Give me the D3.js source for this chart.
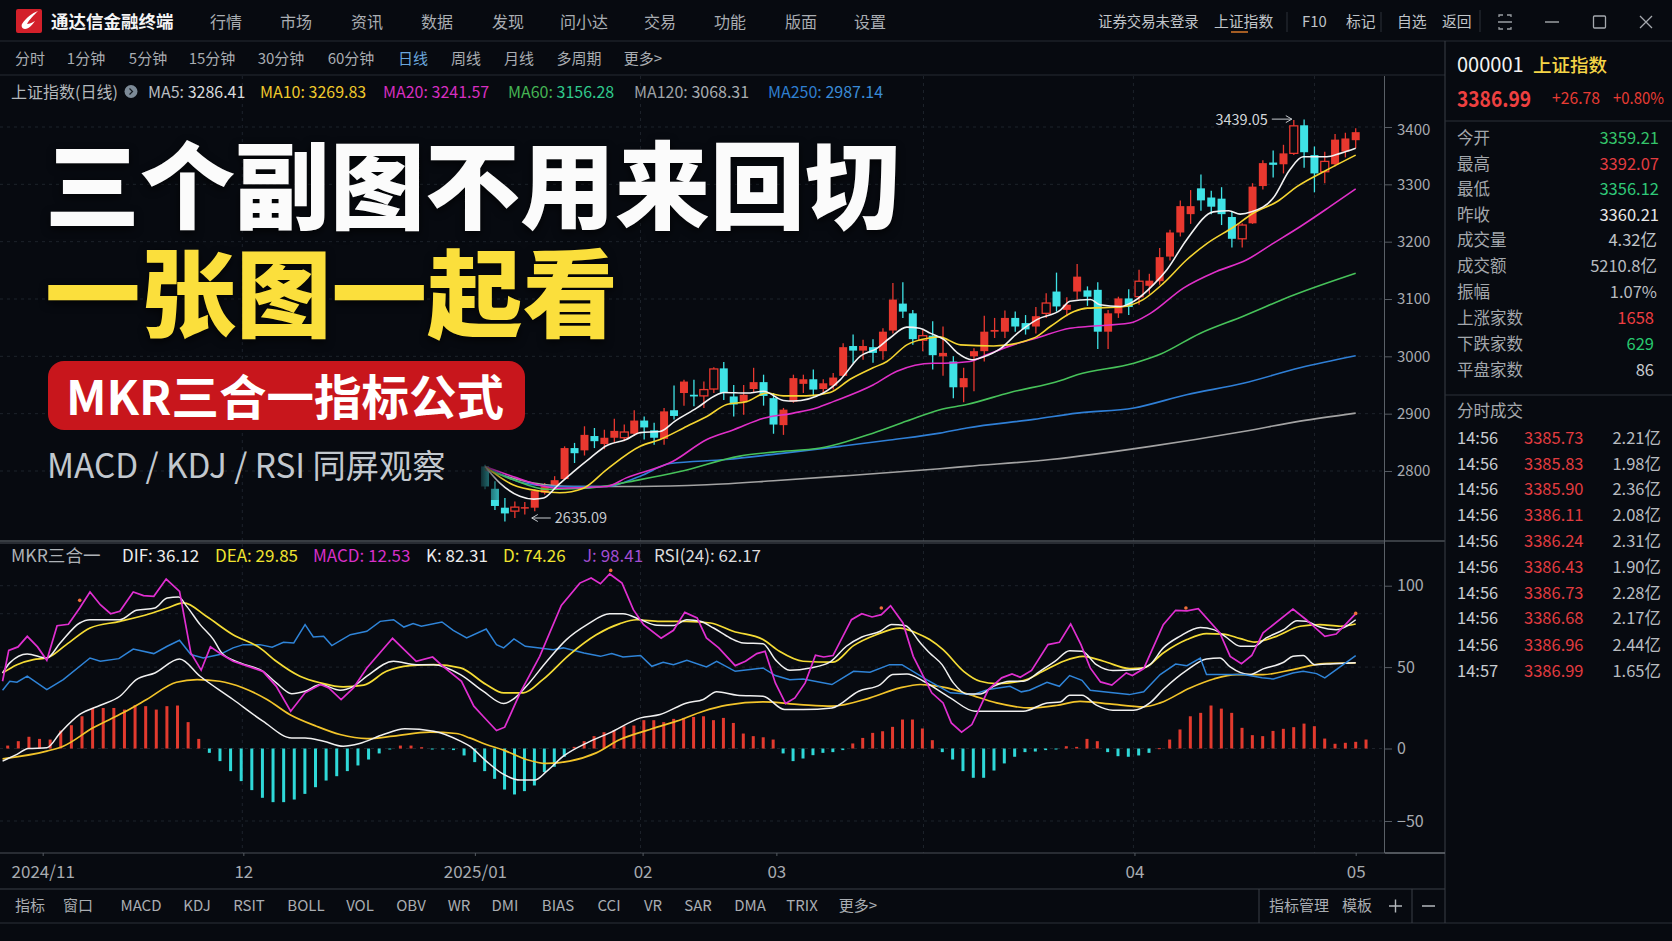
<!DOCTYPE html>
<html><head><meta charset="utf-8">
<script src="https://cdn.jsdelivr.net/npm/d3@7/dist/d3.min.js"></script>
<style>html,body{margin:0;padding:0;background:#070a10;overflow:hidden}svg{display:block}
text{font-family:"Noto Sans CJK SC","Noto Sans",sans-serif}</style></head><body>
<svg id="c" width="1672" height="941"></svg>
<script>
// ---------- candles (Shanghai Composite daily) ----------
const candleOpen=[2808,2769,2736,2730,2735,2736,2762,2773,2786,2840,2836,2861,2847,2858,2858,2865,2888,2871,2856,2906,2936,2933,2931,2943,2979,2930,2921,2943,2955,2927,2880,2921,2952,2960,2943,2949,2966,3018,3010,3016,3009,3045,3092,3075,3028,3036,3000,2991,2946,3000,3009,3043,3043,3067,3058,3052,3075,3113,3081,3113,3115,3116,3043,3075,3101,3104,3123,3131,3174,3216,3248,3293,3277,3275,3243,3205,3232,3297,3338,3335,3354,3403,3351,3322,3335,3357,3377];
const candleClose=[2773,2739,2726,2737,2737,2765,2773,2784,2840,2831,2863,2852,2858,2870,2868,2888,2876,2858,2904,2896,2956,2930,2942,2978,2936,2916,2933,2955,2931,2881,2907,2962,2960,2942,2953,2963,3016,3010,3018,3006,3043,3099,3078,3030,3036,3002,3006,2946,2962,3009,3043,3046,3067,3052,3047,3070,3093,3087,3090,3139,3104,3043,3075,3101,3086,3131,3132,3173,3216,3262,3262,3272,3261,3248,3205,3229,3296,3337,3334,3354,3402,3356,3319,3340,3378,3380,3391];
const candleHigh=[2811,2782,2753,2747,2746,2768,2779,2791,2843,2849,2878,2875,2872,2891,2881,2906,2895,2884,2910,2949,2959,2959,2956,2981,2990,2950,2950,2980,2968,2936,2910,2968,2968,2977,2960,2971,3023,3038,3029,3030,3049,3128,3129,3081,3046,3061,3052,3000,2980,3014,3071,3067,3080,3078,3072,3086,3110,3146,3103,3161,3122,3129,3081,3104,3117,3151,3144,3189,3221,3272,3290,3317,3289,3295,3252,3232,3302,3342,3359,3369,3412,3413,3366,3357,3388,3390,3398];
const candleLow=[2768,2732,2712,2718,2724,2730,2759,2768,2785,2814,2827,2840,2838,2849,2852,2861,2855,2846,2846,2890,2914,2913,2910,2936,2924,2895,2898,2936,2914,2865,2863,2919,2936,2930,2936,2942,2964,2988,2994,2989,2994,3040,3067,3020,3009,2977,2966,2927,2920,2939,2991,3032,3032,3043,3038,3040,3067,3078,3070,3099,3088,3013,3013,3067,3072,3090,3109,3125,3167,3209,3231,3254,3248,3229,3190,3190,3231,3291,3312,3319,3351,3329,3286,3302,3331,3347,3363];
const hollowCandles=[3,14,22,23,44,56,65,75,80,83];
// ---------- moving averages as [day, value] ----------
const ma5=[[0,2808],[1.5,2779],[3.5,2756],[4.9,2751],[5.9,2753],[7.2,2773],[8.9,2799],[10.6,2823],[12.2,2844],[14.2,2855],[15.6,2867],[17.6,2869],[19.1,2887],[21.3,2910],[23.3,2933],[24,2937],[26.3,2936],[28,2939],[30,2923],[31,2922],[34,2936],[35.7,2959],[37.7,3000],[39.4,3014],[40.7,3032],[42.4,3051],[43.7,3049],[44.8,3040],[46.1,3029],[47.4,3006],[48.8,2994],[49.9,2999],[51.6,3014],[53.2,3040],[55.1,3064],[57.4,3081],[58.3,3096],[60.3,3099],[61.2,3090],[63.2,3087],[64.5,3096],[66.4,3125],[67.7,3151],[69.6,3203],[72.2,3252],[73.7,3254],[74.8,3248],[75.9,3252],[78,3276],[79.6,3325],[80.9,3348],[83.2,3348],[84.5,3354],[86,3363]];
const ma10=[[0,2808],[2.8,2776],[5.5,2765],[7.5,2762],[9.9,2770],[12.2,2802],[15.6,2843],[17.6,2855],[20.3,2878],[22.3,2895],[24.3,2916],[26.3,2921],[28.3,2936],[30,2931],[32.3,2931],[34.7,2937],[36.7,2960],[39,2980],[40.4,2991],[42.4,3020],[44.7,3032],[45.6,3034],[47.7,3020],[50.9,3018],[54.8,3032],[56.4,3052],[58.7,3078],[60,3084],[63.2,3086],[65.4,3099],[67.4,3128],[69.6,3168],[71.6,3197],[74.2,3226],[76.1,3250],[78.4,3270],[80.3,3296],[83.2,3325],[86,3351]];
const ma20=[[0,2808],[3.2,2788],[5.5,2775],[7.2,2770],[12.2,2773],[14.2,2788],[18.9,2817],[22.3,2855],[25,2872],[28,2892],[31,2901],[33.3,2910],[35,2921],[39,2950],[41.4,2974],[45,2988],[46.1,2988],[48.6,2991],[50.3,3003],[52.8,3020],[55.1,3032],[58.3,3049],[60,3052],[64.1,3058],[66.1,3075],[69.3,3119],[72.5,3148],[75.4,3168],[78,3197],[80.6,3226],[83.5,3261],[86,3292]];
const ma60=[[0,2805],[2.8,2785],[6.2,2768],[10.2,2770],[15.6,2785],[19.6,2799],[25.6,2826],[29,2833],[33.7,2840],[39,2866],[42.4,2887],[45.7,2907],[48.3,2916],[52.5,2937],[57.4,2958],[59,2968],[64.5,2988],[67.1,3004],[70.9,3040],[75.1,3070],[80,3107],[86,3145]];
const maBlue=[[0,2808],[3.9,2779],[6.9,2773],[12.2,2773],[15.6,2791],[18.6,2813],[24.3,2820],[29,2829],[35.7,2843],[40.7,2854],[45.7,2866],[48.3,2875],[54.8,2890],[59,2901],[64.5,2910],[69.6,2933],[75.1,2953],[80.6,2980],[86,3001]];
const maGray=[[0,2802],[4.9,2779],[8.9,2773],[15.6,2773],[22.3,2776],[29,2783],[35.7,2791],[45.7,2804],[48.3,2808],[56.4,2820],[66.1,2843],[75.1,2869],[80.6,2887],[86,2901]];
const priceTicks=[3400,3300,3200,3100,3000,2900,2800];
// ---------- MKR sub chart ----------
const macdBars=[1.8,4.5,7.2,5.9,5.5,11,14.3,19.8,24.9,24.9,24.9,23.9,26.6,26,23.9,26,26.4,16.2,5.9,-3,-8.7,-15.6,-22.5,-28.7,-34,-37,-37,-35.2,-31.3,-26.7,-22.1,-19.1,-15.6,-11.7,-7.6,-3.4,-0.7,1.8,1.8,0.8,-0.2,-0.2,-1.1,-4.8,-9.4,-15.6,-20.9,-28.3,-31.7,-29.4,-25.5,-16.3,-12.6,-5.7,1,4.5,7.6,10,11.2,13.7,14.1,17.4,17.4,16.2,18.2,18.8,19.4,19.8,17.4,18.8,15.7,9.2,7.6,6.9,5.5,-3.4,-8.7,-6.9,-4.6,-3,-2.5,-1.1,3.1,6.5,9.6,10.6,13.3,17.8,17.8,12.3,5.1,-2.5,-7.6,-15.6,-20.2,-20.2,-15.2,-10.3,-5.7,-2.5,-2.1,-1.1,-0.2,1.4,1,5.9,4.5,-2.5,-5.3,-5.7,-4.8,-3,0.2,5.5,11.7,19.8,21.9,26.4,24.5,21.9,12.7,8.2,7.6,10.8,12.1,13.1,15.3,13.7,6.1,2.9,3.5,4.1,5.5];
const kdjJ=[[-0.5,41.3],[0.1,60.3],[1,62.4],[1.9,68.9],[2.9,62.4],[3.8,54.2],[4.8,75.4],[5.9,76.3],[7,86.3],[8,96.1],[9,88.3],[10,82.8],[10.9,84.3],[12.2,96.1],[13.2,93.9],[14.2,93.5],[15.4,104.1],[16.7,96.5],[17.8,58.7],[18.8,48.1],[19.7,62.4],[20.8,57.7],[21.9,53.6],[24.8,47.4],[26.1,38.2],[27.5,22.9],[28.9,34.2],[30.4,39.3],[31.2,37.2],[32.4,30.1],[33.6,37.2],[34.9,49.5],[37.4,67.7],[39.7,53.6],[41.3,56.2],[42.3,50.5],[44.1,41.3],[45.3,26],[46.2,19.8],[47.5,11],[48.3,13.1],[49.8,34.2],[51.7,56.6],[53.8,87.9],[55.6,101.6],[56.7,104.7],[57.6,101.2],[58.5,107.2],[59.7,101.6],[60.8,85.3],[61.8,76.1],[63.5,67.7],[64.7,72.6],[65.8,83.6],[67,80.2],[67.9,67.9],[69.1,61.8],[70.7,50.9],[71.7,53.6],[72.8,58.3],[73.6,59.7],[74.6,40.3],[75.6,27.6],[76.5,31.1],[77.5,40.3],[78.5,57.3],[79.3,56.2],[80.2,57.1],[82,79.1],[83,82.8],[84,80.8],[84.9,82.2],[85.8,87.7],[87,77.1],[88,56.6],[89.8,34.2],[90.9,28],[91.7,15.7],[92.7,10],[93.7,14.7],[95.3,36.2],[96.6,43.4],[97.6,45.8],[98.4,43.8],[99.5,48],[101.1,63.8],[102.2,65.2],[103.3,76.5],[104.3,63.8],[105.2,49.5],[106.2,40.9],[107.3,38.9],[108.7,46.4],[109.3,44.8],[110.4,49.1],[112.3,76.1],[113.5,84.9],[114.6,84.5],[115.7,85.9],[117.8,71],[118.8,56.6],[119.9,52.1],[120.9,57.1],[122,71],[124.9,85.7],[126.2,79.1],[128,68.9],[129.1,70.3],[130,76.1],[131,82.8]];
const kdjK=[[-0.5,46.4],[0.2,52.6],[1.9,58.1],[3.8,55.6],[5.1,64.8],[7,77.1],[8,79.1],[10.9,79.1],[12.5,84.9],[14.3,86.3],[15.5,92.4],[16.6,93],[17.4,87.3],[18.7,76.1],[20,66.9],[20.8,58.7],[22.6,52.6],[24.8,47.4],[26.1,40.3],[27.6,33.7],[28.9,35.2],[30.4,39.3],[32.3,35.8],[33.6,38.2],[34.9,44.4],[37.5,53.6],[39.7,51.5],[41.4,51.5],[44,45.4],[46.2,35.2],[48.2,27.6],[49.1,30.1],[50.4,38.2],[52.4,53.6],[54.3,66.9],[56.3,76.1],[58.5,82.8],[59.8,82.8],[61.5,79.1],[63.1,75.7],[64.7,75.5],[66,79.1],[67.3,78.1],[68.6,74],[70.2,67.9],[71.5,64.8],[73.4,64.4],[74.6,54.6],[76,48.1],[78,49.5],[79.9,53],[81.5,62.8],[83,68.5],[84.8,72],[85.9,76.1],[87.2,75.5],[88.7,64.8],[89.6,58.7],[90.8,51.5],[91.9,40.3],[93.2,33.5],[94.5,33.5],[95.8,38.2],[97.4,41.3],[98.7,41.3],[100.3,47.4],[101.8,53.6],[103.2,60.1],[104.4,59.7],[105.8,51.5],[107.4,47.9],[109.7,48.5],[111,51.5],[112.3,61.8],[113.9,68.9],[115.9,74.4],[117.2,73],[118.3,68.9],[119.8,62.8],[121.1,62.8],[122.3,67.9],[124,73],[125.3,78.5],[126.2,78.1],[127.5,74.6],[129.1,73],[131,79.1]];
const kdjD=[[-0.5,46.4],[0.9,51.5],[2.5,54.6],[3.8,55.6],[5.7,63.8],[8,74],[10.9,78.1],[13.8,82.8],[15.5,86.3],[17.1,89.4],[19.3,81.2],[21.9,69.9],[24.5,61.8],[26.1,53.6],[28.4,44.4],[30.4,40.3],[32.6,37.8],[34.6,38.9],[36.8,47.4],[39.1,50.9],[41.4,51.5],[44,49.5],[46.5,39.3],[48.2,34.2],[50.1,34.2],[52,42.3],[54.6,57.7],[57.2,69.9],[59.5,76.7],[61.1,79.1],[63.4,78.1],[66,78.1],[68.3,77.1],[70.5,72],[73.4,66.9],[75,59.7],[77.3,53.6],[80.2,53],[82.2,63.2],[84.4,69.9],[86.7,74],[88.3,71],[89.6,66.9],[90.9,60.7],[92.9,47.4],[94.5,41.3],[96.1,39.9],[98.7,41.7],[100.6,47.4],[102.6,53.6],[104.5,56.6],[106.5,53.6],[109,49.1],[110.4,49.5],[112.3,58.7],[114.6,66.9],[116.5,70.6],[118.1,70.3],[119.8,67.5],[121.2,65.4],[123.3,68.9],[125.6,75.1],[127.5,76.1],[129.5,75.1],[131,76.5]];
const rsi24=[[-0.5,35.8],[0.2,41.3],[0.9,40.7],[1.9,44.4],[3.8,36.2],[5.4,42.3],[8,55.6],[9,53.6],[10.8,55.2],[12.2,61.1],[14.2,58.3],[15.5,62.8],[16.7,66.5],[17.8,57.7],[19,55.6],[20.6,57.7],[21.9,61.8],[22.9,63.8],[24.5,63.8],[25.7,62.2],[26.8,65.2],[27.8,64.8],[28.9,76.1],[29.7,68.5],[30.7,68.9],[31.5,63.2],[33.3,69.9],[34.9,72],[36.2,78.1],[37.5,79.1],[38.5,74.6],[39.4,76.7],[40.2,75.1],[42.2,77.7],[43.3,72.6],[44.6,67.9],[46.5,73.4],[47.5,63.8],[48.2,61.8],[49.2,67.3],[50.3,62.8],[51.7,61.8],[53,60.7],[54,61.8],[56,58.7],[57.6,56.6],[58.7,58.3],[59.8,56.2],[61.5,57.1],[62.6,50.5],[63.7,53],[64.7,51.5],[66,54.2],[67.9,50.1],[68.9,53.6],[70.7,47.4],[73.4,49.5],[74.6,44.8],[76,42.3],[77.3,42.7],[80.1,39.3],[82.2,47.4],[83.8,46.8],[85.7,51.5],[86.9,51.5],[89.3,42.3],[91.6,34.2],[93.8,33.1],[95.3,36.2],[97.4,38.2],[98.5,34.8],[99.3,35.8],[101,40.7],[102.2,38.2],[103.2,44.8],[104.4,41.9],[105.2,35.8],[106.5,34.8],[109,33.1],[110.4,34.8],[112,45.4],[113.5,51.9],[114.6,50.9],[115.9,55.6],[116.5,45.4],[117.5,45.4],[120.1,45.4],[121.9,43.4],[123,42.7],[124.9,46.4],[125.9,47.4],[127.2,46],[128,43.4],[131,57.1]];
const macdDif=[[-0.5,-8.7],[0.9,-4.1],[2,0],[3.8,0.4],[5.1,9.6],[7,20.9],[9,26.6],[10.9,32.1],[12.5,42.3],[14.3,46.4],[16.7,55],[18.7,44.4],[21.9,30.1],[24.8,16.8],[27.6,6.5],[28.9,6.5],[30.7,4.5],[32.6,1.4],[34.2,3.1],[36.5,8.6],[38.6,12.1],[41.4,10.6],[44,4.5],[44.9,1.4],[46.5,-8.7],[48.2,-17.9],[49.8,-21.8],[51.2,-21.8],[52.4,-15.6],[54,-5.3],[56.3,3.5],[58.5,9.6],[61.5,18.8],[63.4,20.9],[66,28],[67.6,30.1],[68.9,34.8],[70.9,32.7],[73.4,32.1],[75.5,23.9],[77.3,23.9],[80.1,24.9],[82.7,35.2],[84.8,39.3],[86,45.4],[87.4,45.8],[89,41.3],[91.6,31.1],[94,22.9],[96.1,22.9],[98.7,22.9],[101,28],[102.3,28.6],[103.2,32.7],[104.4,32.7],[105.8,26.6],[107.4,23.5],[109.4,23.5],[111,28],[112.3,36.2],[114.6,48.1],[116.5,55],[117.8,55.6],[118.8,50.1],[120.7,45.4],[122,48.9],[124,53],[124.9,56.6],[125.9,57.1],[127,51.5],[128.8,52.1],[131,52.6]];
const macdDea=[[-0.5,-7.1],[3.8,-1.8],[5.4,1.4],[8.3,12.7],[11.2,21.9],[13.5,30.1],[16.4,40.7],[18.4,42.3],[20.6,41.3],[22.9,37.2],[25.2,30.1],[27.4,20.9],[30,13.7],[32.3,8.6],[34.9,6.1],[37.5,7.6],[41,10],[43.6,9.2],[44.9,6.5],[46.5,2.5],[48.2,-1.1],[50.4,-7.6],[52.4,-10.3],[54.6,-8.7],[57.2,-3],[59.5,5.5],[62.4,11.7],[65,16.8],[67.6,22.9],[69.9,26.6],[73.4,28.6],[77,27],[80.1,26],[83.8,31.1],[86.7,37.2],[88.7,39.3],[89.6,38.9],[91.3,37.2],[93.5,33.1],[96.1,28],[99.4,24.9],[101.9,26.4],[104.2,29],[107.1,27.4],[110.4,25.6],[112,28],[114.9,37.2],[117.2,42.7],[119.4,45.4],[122,45.4],[124.9,48.5],[127.9,52.1],[131,52.6]];
const signalDots=[[7,91],[58.6,109.4],[84.9,86.3],[114.5,86.3],[131,83]];
const subTicks=[100,50,0,-50];
const subGrid=[100,82.8,50,0,-50];
const dateTicks=[3.4,22.9,45.4,61.7,74.7,109.5,131];
const dateLabels=["2024/11","12","2025/01","02","03","04","05"];
const gridDays=[22.8,61.5,89,109.4,127];
// ---------- labels ----------
const menuItems=["行情","市场","资讯","数据","发现","问小达","交易","功能","版面","设置"];
const periodItems=["分时","1分钟","5分钟","15分钟","30分钟","60分钟","日线","周线","月线","多周期","更多>"];
const bottomItems=["指标","窗口","MACD","KDJ","RSIT","BOLL","VOL","OBV","WR","DMI","BIAS","CCI","VR","SAR","DMA","TRIX","更多>"];
const quoteLabels=["今开","最高","最低","昨收","成交量","成交额","振幅","上涨家数","下跌家数","平盘家数"];
const quoteValues=["3359.21","3392.07","3356.12","3360.21","4.32亿","5210.8亿","1.07%","1658","629","86"];
const tradeTimes=["14:56","14:56","14:56","14:56","14:56","14:56","14:56","14:56","14:56","14:57"];
const tradePrices=["3385.73","3385.83","3385.90","3386.11","3386.24","3386.43","3386.73","3386.68","3386.96","3386.99"];
const tradeVols=["2.21亿","1.98亿","2.36亿","2.08亿","2.31亿","1.90亿","2.28亿","2.17亿","2.44亿","1.65亿"];

// ---------- layout ----------
const svg=d3.select("#c"), RED="#e8382f", CYAN="#3fe3e6", BG="#070a10", LINE="#2c3138";
svg.append("rect").attr("width",1672).attr("height",941).attr("fill",BG);
const txt=(g,x,y,s,size,fill,anchor,weight)=>g.append("text").attr("x",x).attr("y",y-1.5).attr("font-size",size).attr("fill",fill).attr("text-anchor",anchor||"start").attr("font-weight",weight||400).attr("dominant-baseline","central").text(s);
const hl=(x1,x2,y,c)=>svg.append("line").attr("x1",x1).attr("x2",x2).attr("y1",y).attr("y2",y).attr("stroke",c||LINE);
const vl=(x,y1,y2,c)=>svg.append("line").attr("x1",x).attr("x2",x).attr("y1",y1).attr("y2",y2).attr("stroke",c||LINE);

// scales
const yP=d3.scaleLinear().domain([2800,3400]).range([471,127]);
const xC=d3.scaleLinear().domain([0,45,86]).range([485,932.7,1355.7]);
const yS=d3.scaleLinear().domain([-50,0,100]).range([821,748.5,585.7]);
const xS=d3.scaleLinear().domain([0,131]).range([7.7,1355.7]);
const xB=d3.scaleLinear().domain([0,44,91,131]).range([7.7,474.7,942.3,1355.7]);

// grid
const grid=svg.append("g").attr("stroke","#1d232b").attr("stroke-dasharray","3 4");
priceTicks.forEach(t=>grid.append("line").attr("x1",0).attr("x2",1384).attr("y1",yP(t)).attr("y2",yP(t)));
subGrid.forEach(t=>grid.append("line").attr("x1",0).attr("x2",1384).attr("y1",yS(t)).attr("y2",yS(t)));
gridDays.forEach(d=>{grid.append("line").attr("x1",xS(d)).attr("x2",xS(d)).attr("y1",76).attr("y2",541);grid.append("line").attr("x1",xS(d)).attr("x2",xS(d)).attr("y1",544).attr("y2",853);});

// frame lines
hl(0,1672,41,"#262b32");hl(0,1445,75,"#262b32");
hl(0,1445,541,"#6a7077");hl(0,1385,543,"#4a4f56");
hl(0,1445,853,"#4a4f56");hl(0,1445,889,"#3a3f46");hl(0,1672,923,"#2c3138");
vl(1445,41,923,"#3a3f46");vl(1384.5,76,853,"#5a6067");vl(1259,889,923,"#3a3f46");vl(1412,889,923,"#3a3f46");
hl(1385,1445,853,"#7a8087");hl(1445,1672,121,"#2c3138");hl(1445,1672,395,"#2c3138");
vl(1287,12,32,"#2c3138");vl(1381,12,32,"#2c3138");vl(1480,10,32,"#2c3138");

// candles
const cg=svg.append("g");
candleOpen.forEach((o,i)=>{
  const c=candleClose[i], up=c>=o, col=up?RED:CYAN, x=xC(i);
  cg.append("line").attr("x1",x).attr("x2",x).attr("y1",yP(candleHigh[i])).attr("y2",yP(candleLow[i])).attr("stroke",col).attr("stroke-width",1.3);
  const h=hollowCandles.includes(i);
  cg.append("rect").attr("x",x-4).attr("width",8).attr("y",yP(Math.max(o,c))).attr("height",Math.max(1.5,Math.abs(yP(o)-yP(c))))
    .attr("fill",h?BG:col).attr("stroke",h?col:"none").attr("stroke-width",1.3);
});
// moving averages
const lineC=d3.line().x(d=>xC(d[0])).y(d=>yP(d[1])).curve(d3.curveMonotoneX);
[[maGray,"#a3a3a3"],[maBlue,"#2f7fd6"],[ma60,"#47c25a"],[ma20,"#e02fc8"],[ma10,"#f5d531"],[ma5,"#f2f2f2"]].forEach(([d,c])=>
  svg.append("path").attr("d",lineC(d)).attr("fill","none").attr("stroke",c).attr("stroke-width",1.6));
// fade at the left start of the price pane
const defs=svg.append("defs");
const gr=defs.append("linearGradient").attr("id","fade");
gr.append("stop").attr("offset",0).attr("stop-color",BG).attr("stop-opacity",1);
gr.append("stop").attr("offset",1).attr("stop-color",BG).attr("stop-opacity",0);
svg.append("rect").attr("x",476).attr("y",440).attr("width",30).attr("height",60).attr("fill","url(#fade)");

// price axis
const axP=svg.append("g").attr("transform","translate(1385,0)").call(d3.axisRight(yP).tickValues(priceTicks).tickSize(7).tickPadding(5).tickFormat(d3.format("d")));
axP.select(".domain").remove();axP.selectAll("line").attr("stroke","#555b62");
axP.selectAll("text").attr("font-size",15).attr("fill","#a7abb0").attr("font-family",'"Noto Sans CJK SC"');
axP.selectAll("text").filter(d=>d===3400).attr("y",2.5);

// annotations
const ann=svg.append("g");
const arrow=(x1,x2,y)=>{ann.append("line").attr("x1",x1).attr("x2",x2).attr("y1",y).attr("y2",y).attr("stroke","#c8ccd0");
  const s=x2>x1?-1:1;ann.append("path").attr("d",`M${x2+s*6},${y-3.5}L${x2},${y}L${x2+s*6},${y+3.5}`).attr("fill","none").attr("stroke","#c8ccd0");};
const hiX=xC(80)-2, hiY=yP(candleHigh[80])-1;
arrow(hiX-20,hiX,hiY);txt(ann,hiX-24,hiY+1,"3439.05",14.5,"#d5d8db","end");
const loX=xC(4)+7, loY=yP(candleLow[3]);
arrow(loX+19,loX,loY);txt(ann,loX+23,loY,"2635.09",14.5,"#c4c8cc");

// ---- sub chart ----
const bg=svg.append("g");
bg.selectAll("rect").data(macdBars).join("rect").attr("x",(d,i)=>xB(i)-1.5).attr("width",3)
  .attr("y",d=>yS(Math.max(0,d))).attr("height",d=>Math.max(1,Math.abs(yS(d)-yS(0))))
  .attr("fill",d=>d>=0?"#e23a2e":"#2fd8d8");
const lineS=d3.line().x(d=>xS(d[0])).y(d=>yS(d[1]));
const smooth=d3.line().x(d=>xS(d[0])).y(d=>yS(d[1])).curve(d3.curveMonotoneX);
svg.append("path").attr("d",smooth(macdDea)).attr("fill","none").attr("stroke","#f2c42a").attr("stroke-width",1.7);
svg.append("path").attr("d",smooth(macdDif)).attr("fill","none").attr("stroke","#f0f0f0").attr("stroke-width",1.5);
svg.append("path").attr("d",lineS(rsi24)).attr("fill","none").attr("stroke","#2f84d8").attr("stroke-width",1.5);
svg.append("path").attr("d",smooth(kdjD)).attr("fill","none").attr("stroke","#f5dc35").attr("stroke-width",1.7);
svg.append("path").attr("d",smooth(kdjK)).attr("fill","none").attr("stroke","#f0f0f0").attr("stroke-width",1.5);
svg.append("path").attr("d",lineS(kdjJ)).attr("fill","none").attr("stroke","#e02fd0").attr("stroke-width",1.7);
svg.selectAll(".sig").data(signalDots).join("circle").attr("class","sig").attr("cx",d=>xS(d[0])).attr("cy",d=>yS(d[1])).attr("r",1.8).attr("fill","#f0703a");

const axS=svg.append("g").attr("transform","translate(1385,0)").call(d3.axisRight(yS).tickValues(subTicks).tickSize(7).tickPadding(5).tickFormat(d=>d<0?"−"+(-d):d));
axS.select(".domain").remove();axS.selectAll("line").attr("stroke","#555b62");
axS.selectAll("text").attr("font-size",16).attr("fill","#a7abb0").attr("font-family",'"Noto Sans CJK SC"');

const axD=svg.append("g").attr("transform","translate(0,853)").call(d3.axisBottom(xS).tickValues(dateTicks).tickSize(3).tickPadding(10).tickFormat((d,i)=>dateLabels[i]));
axD.select(".domain").remove();axD.selectAll("line").attr("stroke","#555b62");
axD.selectAll("text").attr("font-size",17).attr("fill","#a7abb0").attr("font-family",'"Noto Sans CJK SC"');

// ---- hero title ----
const hero=svg.append("g");
const shadow="drop-shadow(0 3px 4px rgba(0,0,0,.7))";
txt(hero,45,182,"三个副图不用来回切",95,"#fbfbfb","start",900).style("filter",shadow);
txt(hero,45,289.5,"一张图一起看",95.5,"#fbdf3c","start",900).style("filter",shadow);
hero.append("rect").attr("x",48).attr("y",361).attr("width",477).attr("height",69).attr("rx",16).attr("fill","#c8161c");
txt(hero,66,395.5,"MKR三合一指标公式",47.5,"#ffffff","start",700);
txt(hero,47,464.5,"MACD / KDJ / RSI 同屏观察",33.3,"#c2c8ce");

// ---- title bar ----
const topBar=svg.append("g");
topBar.append("rect").attr("x",16).attr("y",9).attr("width",26).attr("height",24).attr("rx",2).attr("fill","#d3202a");
topBar.append("path").attr("d","M38,11C32,13 26,18 22,24C21,26 22,29 25,29C29,29 32,25 35,21C32,23 29,24 27,24C29,20 34,15 38,11Z").attr("fill","#fff");
txt(topBar,51,22,"通达信金融终端",17.5,"#f4f4f4","start",700);
[226,296,367,437,508,584,660,730,801,870].forEach((x,i)=>txt(topBar,x,22,menuItems[i],16,"#a9adb2","middle"));
[[1098,"证券交易未登录",14.4],[1214,"上证指数",14.8],[1302,"F10",14.8],[1346,"标记",14.8],[1397,"自选",14.8],[1442,"返回",14.8]].forEach(d=>txt(topBar,d[0],22,d[1],d[2],"#c0c4c8"));
topBar.append("line").attr("x1",1231).attr("x2",1248).attr("y1",32).attr("y2",32).attr("stroke","#d9792a").attr("stroke-width",1.5);
// window icons
topBar.append("path").attr("d","M1499,17v-2h4M1507,15h4v2M1499,27v2h4M1507,29h4v-2M1498,22h14").attr("fill","none").attr("stroke","#9a9ea3").attr("stroke-width",1.3);
topBar.append("line").attr("x1",1545).attr("x2",1559).attr("y1",22).attr("y2",22).attr("stroke","#a5a9ae").attr("stroke-width",1.4);
topBar.append("rect").attr("x",1593.5).attr("y",16).attr("width",12).attr("height",12).attr("rx",1).attr("fill","none").attr("stroke","#a5a9ae").attr("stroke-width",1.3);
topBar.append("path").attr("d","M1640,16L1652,28M1652,16L1640,28").attr("stroke","#a5a9ae").attr("stroke-width",1.3);

// ---- period bar ----
[30,86,148,212,281,351,413,466,519,579,643].forEach((x,i)=>txt(svg,x,59,periodItems[i],15,i==6?"#6aa6dc":"#a9adb2","middle"));

// ---- legend ----
txt(svg,11,92,"上证指数(日线)",16,"#b4b8bc");
svg.append("circle").attr("cx",131).attr("cy",91.5).attr("r",6.5).attr("fill","#7c8a97");
svg.append("path").attr("d","M129.5,88.5l3,3l-3,3").attr("fill","none").attr("stroke","#151a20").attr("stroke-width",1.2);
[[148,"MA5: ","3286.41","#b9bdc2","#d8dbde"],[260,"MA10: ","3269.83","#f0c92c","#f0c92c"],[383,"MA20: ","3241.57","#d62fc0","#d62fc0"],[508,"MA60: ","3156.28","#45b554","#2fc88c"],[634,"MA120: ","3068.31","#9ea2a7","#a9adb2"],[768,"MA250: ","2987.14","#2f7fd0","#3a8ad6"]].forEach(d=>{
  const t=txt(svg,d[0],92,"",16,d[3]);t.append("tspan").text(d[1]);t.append("tspan").attr("fill",d[4]).text(d[2]);});
txt(svg,11,556,"MKR三合一",17.6,"#aeb2b7");
[[122,"DIF: 36.12","#ececec"],[215,"DEA: 29.85","#efe32f"],[313,"MACD: 12.53","#d62fc8"],[426,"K: 82.31","#ececec"],[503,"D: 74.26","#efe32f"],[583,"J: 98.41","#a24dd0"],[654,"RSI(24): 62.17","#dcdcdc"]].forEach(d=>txt(svg,d[0],556,d[1],17,d[2]));

// ---- bottom bar ----
[30,78,141,197,249,306,360,411,459,505,558,609,653,698,750,802,858].forEach((x,i)=>txt(svg,x,906,bottomItems[i],15,"#a9adb2","middle"));
[[1299,"指标管理"],[1357,"模板"]].forEach(d=>txt(svg,d[0],906,d[1],15,"#a9adb2","middle"));
svg.append("path").attr("d","M1389,906h13M1395.5,899.5v13M1422,906h13").attr("stroke","#b4b8bc").attr("stroke-width",1.4);

// ---- right panel ----
txt(svg,1457,65,"000001",20,"#f2f2f2");
txt(svg,1533,65,"上证指数",18.5,"#f5d547","start",500);
txt(svg,1457,98,"3386.99",22,"#ee4040","start",700).attr("textLength",74).attr("lengthAdjust","spacingAndGlyphs");
txt(svg,1552,98,"+26.78",16.5,"#e83c34").attr("textLength",48).attr("lengthAdjust","spacingAndGlyphs");
txt(svg,1613,98,"+0.80%",16.5,"#e83c34").attr("textLength",51).attr("lengthAdjust","spacingAndGlyphs");
const rowY=[138.3,164,189.3,215,240.7,266.7,292.7,318.3,344.3,370];
const rowC=["#34c46a","#e33c40","#2fc878","#e8e8e8","#c0c4c8","#b8bcc0","#b8bcc0","#ee3e42","#27c96f","#c8ccd0"];
const rowR=[1659,1659,1659,1659,1657,1657,1657,1654,1654,1654];
quoteLabels.forEach((l,i)=>{txt(svg,1457,rowY[i],l,16.5,"#a3a7ac");txt(svg,rowR[i],rowY[i],quoteValues[i],16.5,rowC[i],"end");});
txt(svg,1457,411,"分时成交",16.5,"#a3a7ac");
const tradeY=[438,464,489.5,515,541.7,567,593,618.5,645,671];
tradeTimes.forEach((t,i)=>{txt(svg,1457,tradeY[i],t,16.5,"#c8ccd0");txt(svg,1524,tradeY[i],tradePrices[i],16.5,"#e23c40");txt(svg,1661,tradeY[i],tradeVols[i],16.5,"#b8bcc0","end");});
</script></body></html>
